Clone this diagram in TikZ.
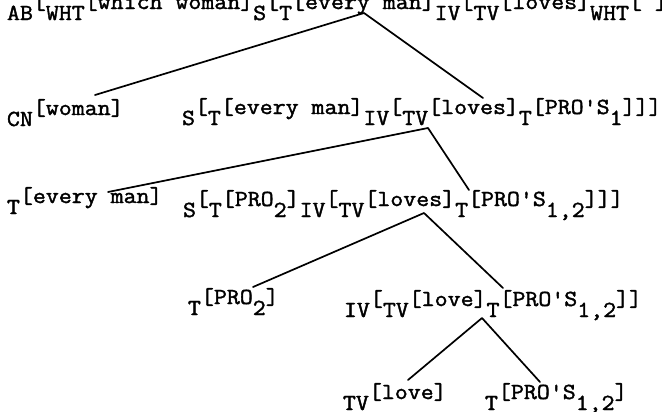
\documentclass[tikz,border=0pt]{standalone}
\usepackage{fontspec}
\newfontfamily\tw{Latin Modern Mono}[FakeBold=1.6]
\newcommand{\hi}[1]{\raisebox{11bp}{#1}}
\newcommand{\lo}[1]{#1}
\newcommand{\rowtext}[1]{\scalebox{1.094}[1]{#1}}
\tikzset{
  row/.style={anchor=base west, inner sep=0pt, outer sep=0pt, font=\tw\fontsize{23bp}{26bp}\selectfont},
  branch/.style={line width=1.7bp, line cap=round, line join=round}
}
\begin{document}
\begin{tikzpicture}[x=1bp, y=-1bp]
\useasboundingbox[fill=white] (0,0) rectangle (662,411);
% rows (base = lowered label line; raised text sits 11bp higher)
\node[row] (r1) at (7,20) {\rowtext{\lo{AB}\hi{[}\lo{WHT}\hi{[which woman]}\lo{S}\hi{[}\lo{T}\hi{[every man]}\lo{IV}\hi{[}\lo{TV}\hi{[loves]}\lo{WHT}\hi{[ ]}}};
\node[row] (r2a) at (7,126) {\rowtext{\lo{CN}\hi{[woman]}}};
\node[row] (r2b) at (182,125) {\rowtext{\lo{S}\hi{[}\lo{T}\hi{[every man]}\lo{IV}\hi{[}\lo{TV}\hi{[loves]}\lo{T}\hi{[PRO'S}\lo{1}\hi{]]]}}};
\node[row] (r3a) at (7,214) {\rowtext{\lo{T}\hi{[every man]}}};
\node[row] (r3b) at (183,217) {\rowtext{\lo{S}\hi{[}\lo{T}\hi{[PRO}\lo{2}\hi{]}\lo{IV}\hi{[}\lo{TV}\hi{[loves]}\lo{T}\hi{[PRO'S}\lo{1,2}\hi{]]]}}};
\node[row] (r4a) at (188,315) {\rowtext{\lo{T}\hi{[PRO}\lo{2}\hi{]}}};
\node[row] (r4b) at (344,317) {\rowtext{\lo{IV}\hi{[}\lo{TV}\hi{[love]}\lo{T}\hi{[PRO'S}\lo{1,2}\hi{]]}}};
\node[row] (r5a) at (343,410) {\rowtext{\lo{TV}\hi{[love]}}};
\node[row] (r5b) at (485,410) {\rowtext{\lo{T}\hi{[PRO'S}\lo{1,2}\hi{]}}};
% branch points
\coordinate (f1) at (364,13);
\coordinate (f1l) at (95,95);
\coordinate (f1r) at (483,98);
\coordinate (f2) at (428,128);
\coordinate (f2l) at (108,192);
\coordinate (f2r) at (469,190);
\coordinate (f3) at (424,213);
\coordinate (f3l) at (253,287);
\coordinate (f3r) at (503,288);
\coordinate (f4) at (482,318);
\coordinate (f4l) at (408,380);
\coordinate (f4r) at (540,382);
\draw[branch] (f1l) -- (f1) -- (f1r);
\draw[branch] (f2l) -- (f2) -- (f2r);
\draw[branch] (f3l) -- (f3) -- (f3r);
\draw[branch] (f4l) -- (f4) -- (f4r);
\end{tikzpicture}
\end{document}
